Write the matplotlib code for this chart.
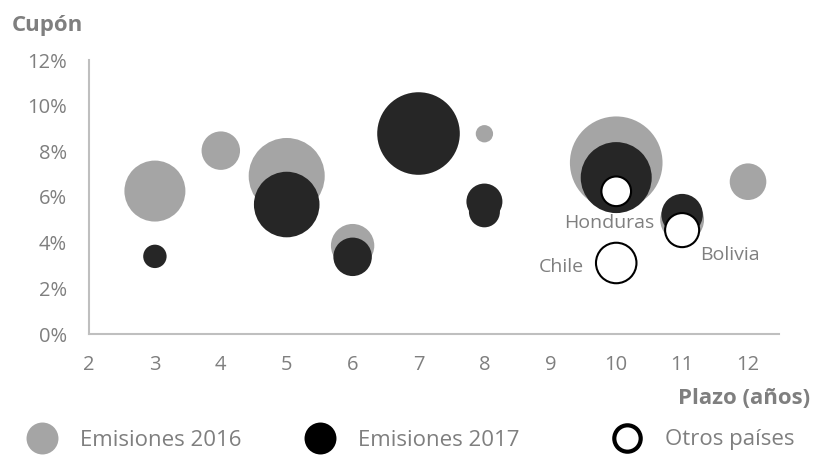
import matplotlib
matplotlib.use("Agg")
import matplotlib.pyplot as plt
from matplotlib.lines import Line2D

plt.rcParams['font.family'] = ['Open Sans', 'DejaVu Sans']

# Emisiones 2016: plazo (años), cupón (%), monto de la emisión
plazo_2016 = [3, 4, 5, 6, 8, 10, 11, 12]
cupon_2016 = [6.26, 8.03, 6.92, 3.87, 8.77, 7.50, 5.00, 6.67]
monto_2016 = [930, 370, 1445, 470, 75, 2145, 480, 335]

# Emisiones 2017
plazo_2017 = [3, 5, 6, 7, 8, 8, 10, 11]
cupon_2017 = [3.40, 5.67, 3.38, 8.78, 5.80, 5.35, 6.85, 5.23]
monto_2017 = [137, 1075, 370, 1705, 324, 240, 1260, 428]

# Otros países
paises = ['Honduras', 'Chile', 'Bolivia']
plazo_otros = [10, 10, 11]
cupon_otros = [6.25, 3.11, 4.55]
monto_otros = [220, 410, 290]

x_ticks = [2, 3, 4, 5, 6, 7, 8, 9, 10, 11, 12]
y_ticks = [0, 2, 4, 6, 8, 10, 12]

GRIS = '#A5A5A5'
NEGRO = '#262626'
TEXTO = '#7F7F7F'
EJE = '#BFBFBF'

W, H, DPI = 813, 455, 100
fig = plt.figure(figsize=(W / DPI, H / DPI), dpi=DPI)
ax = fig.add_axes([89 / W, 1 - 334 / H, (779 - 89) / W, (334 - 60) / H])

# bubble area proportional to the issue amount
k = (1.44) ** 2

ax.scatter(plazo_2016, cupon_2016, s=[m * k for m in monto_2016], c=GRIS,
           linewidths=0, clip_on=False, zorder=2)
ax.scatter(plazo_2017, cupon_2017, s=[m * k for m in monto_2017], c=NEGRO,
           linewidths=0, clip_on=False, zorder=3)
ax.scatter(plazo_otros, cupon_otros, s=[m * k for m in monto_otros], c='white',
           edgecolors='black', linewidths=1.5, clip_on=False, zorder=4)

offsets = {'Honduras': ((38, -32), 'right'),
           'Chile': ((-32, -4), 'right'),
           'Bolivia': ((18, -25), 'left')}
for nombre, xv, yv in zip(paises, plazo_otros, cupon_otros):
    off, ha = offsets[nombre]
    ax.annotate(nombre, (xv, yv), xytext=off, textcoords='offset pixels',
                ha=ha, va='center', color=TEXTO, fontsize=14, zorder=5)

ax.set_xlim(2, 12.47)
ax.set_ylim(0, 12)
ax.set_xticks(x_ticks)
ax.set_xticklabels([str(v) for v in x_ticks])
ax.set_yticks(y_ticks)
ax.set_yticklabels([f'{v}%' for v in y_ticks])
ax.tick_params(length=0, colors=TEXTO, labelsize=14.5)
ax.tick_params(axis='x', pad=15)
ax.tick_params(axis='y', pad=16)

for side in ['top', 'right']:
    ax.spines[side].set_visible(False)
for side in ['left', 'bottom']:
    ax.spines[side].set_color(EJE)
    ax.spines[side].set_linewidth(1.5)

fig.text(12 / W, 1 - 25 / H, 'Cupón', fontsize=16, fontweight='bold',
         color=TEXTO, ha='left', va='center')
fig.text(810 / W, 1 - 398 / H, 'Plazo (años)', fontsize=16, fontweight='bold',
         color=TEXTO, ha='right', va='center')

# legend entries, each anchored under its own column
handles = [
    Line2D([], [], ls='none', marker='o', ms=23, mfc=GRIS, mec=GRIS, mew=0),
    Line2D([], [], ls='none', marker='o', ms=23, mfc='black', mec='black', mew=0),
    Line2D([], [], ls='none', marker='o', ms=19, mfc='white', mec='black', mew=3),
]
labels = ['Emisiones 2016', 'Emisiones 2017', 'Otros países']
centros = [42, 320, 627]
fs = 16
hl = 1.6
hl_px = hl * fs * DPI / 72
for h, lab, cx in zip(handles, labels, centros):
    leg = fig.legend([h], [lab], loc='center left',
                     bbox_to_anchor=((cx - hl_px / 2) / W, 1 - 440 / H),
                     frameon=False, fontsize=fs, handlelength=hl,
                     handletextpad=(38 - hl_px / 2) / (fs * DPI / 72),
                     borderaxespad=0, borderpad=0)
    for t in leg.get_texts():
        t.set_color(TEXTO)

fig.savefig('out.png', dpi=DPI)
